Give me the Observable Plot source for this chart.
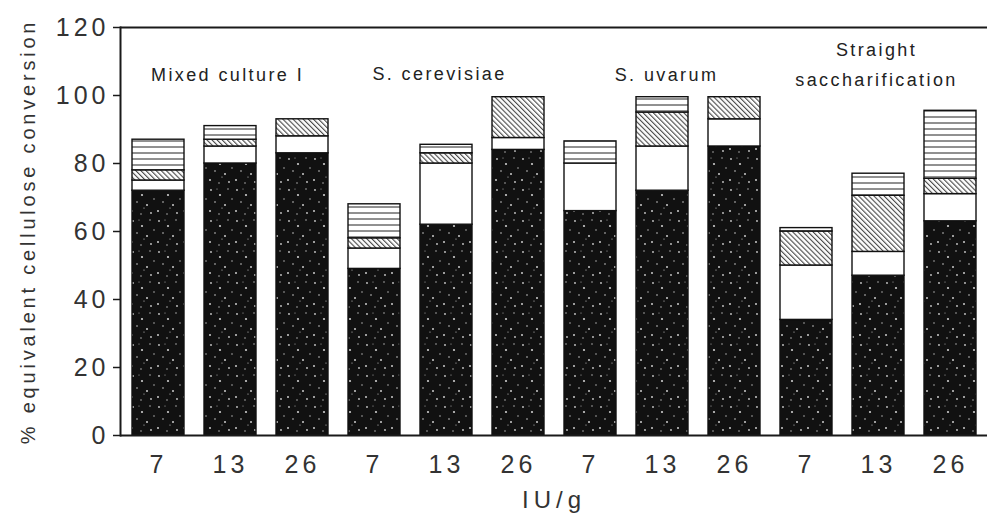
<!DOCTYPE html>
<html><head><meta charset="utf-8">
<script src="https://cdn.jsdelivr.net/npm/d3@7"></script>
<script src="https://cdn.jsdelivr.net/npm/@observablehq/plot@0.6"></script>
<style>body{margin:0;background:#fff}</style>
</head><body><div id="chart"></div>
<script>
// Data
const conditions = ["Mixed culture I", "S. cerevisiae", "S. uvarum", "Straight saccharification"];
const doses = ["7", "13", "26"];
// cumulative tops (% equivalent cellulose conversion) for each stacked segment, bar order
const blackTop = [72, 80, 83, 49, 62, 84, 66, 72, 85, 34, 47, 63];
const whiteTop = [75, 85, 88, 55, 80, 87.5, 80, 85, 93, 50, 54, 71];
const diagTop  = [78, 87, 93, 58, 83, 99.5, 80, 95, 99.5, 60, 70.5, 75.5];
const lineTop  = [87, 91, 93, 68, 85.5, 99.5, 86.5, 99.5, 99.5, 61, 77, 95.5];
const yTicks = [0, 20, 40, 60, 80, 100, 120];

const keys = [];
conditions.forEach(c => doses.forEach(d => keys.push(c + "|" + d)));
const series = [
  {name: "solid", tops: blackTop, fill: "url(#speckle)"},
  {name: "open", tops: whiteTop, fill: "white"},
  {name: "diagonal", tops: diagTop, fill: "url(#diag)"},
  {name: "lined", tops: lineTop, fill: "url(#hlines)"}
];
const segments = [];
keys.forEach((k, i) => {
  let prev = 0;
  series.forEach(s => {
    const t = s.tops[i];
    if (t > prev + 0.01) segments.push({key: k, y1: prev, y2: t, fill: s.fill, series: s.name});
    prev = Math.max(prev, t);
  });
});
const groupLabels = [
  {key: keys[1], label: "Mixed culture I", dx: -3, dy: 44},
  {key: keys[4], label: "S. cerevisiae", dx: -7, dy: 43},
  {key: keys[7], label: "S. uvarum", dx: 4, dy: 44},
  {key: keys[10], label: "Straight\nsaccharification", dx: -2, dy: 34}
];

const font = "'Liberation Sans', Arial, Helvetica, sans-serif";
const chart = Plot.plot({
  width: 987,
  height: 519,
  marginLeft: 120,
  marginRight: 0,
  marginTop: 27,
  marginBottom: 84,
  style: {fontFamily: font, fontSize: "25px", color: "#333", background: "white"},
  x: {domain: keys, paddingInner: 0.28, paddingOuter: 0.15},
  y: {domain: [0, 120]},
  marks: [
    Plot.barY(segments, {x: "key", y1: "y1", y2: "y2", fill: "fill", stroke: "#111", strokeWidth: 1.4}),
    Plot.ruleY([0, 120], {stroke: "#1a1a1a", strokeWidth: 2}),
    Plot.frame({anchor: "left", stroke: "#1a1a1a", strokeWidth: 2}),
    Plot.axisY({ticks: yTicks, tickSize: 7, tickPadding: 4, stroke: "#1a1a1a", strokeWidth: 1.5,
      label: "% equivalent cellulose conversion", labelAnchor: "center", labelArrow: "none", labelOffset: 100}),
    Plot.axisX({tickSize: 0, tickPadding: 20, tickFormat: d => d.split("|")[1],
      label: "IU/g", labelAnchor: "center", labelArrow: "none", labelOffset: 72}),
    ...groupLabels.map(g => Plot.text([g], {x: "key", text: "label", frameAnchor: "top", dx: g.dx, dy: g.dy,
      lineAnchor: "middle", fontSize: 18, lineHeight: 1.65, fill: "#222"}))
  ]
});

chart.insertAdjacentHTML("afterbegin", `<defs>
<pattern id="speckle" patternUnits="userSpaceOnUse" width="26" height="31">
<rect width="26" height="31" fill="#111"/>
<g fill="#ccc">
<circle cx="3" cy="4" r="0.9"/><circle cx="12" cy="9" r="1.1"/><circle cx="20" cy="3" r="0.7"/>
<circle cx="7" cy="16" r="0.8"/><circle cx="17" cy="19" r="1"/><circle cx="24" cy="13" r="0.7"/>
<circle cx="2" cy="25" r="1"/><circle cx="11" cy="28" r="0.7"/><circle cx="21" cy="27" r="0.9"/>
<circle cx="14" cy="22" r="0.6"/><circle cx="9" cy="3" r="0.5"/>
</g></pattern>
<pattern id="diag" patternUnits="userSpaceOnUse" width="3.6" height="3.6" patternTransform="rotate(-45)">
<rect width="3.6" height="3.6" fill="white"/><line x1="0.6" y1="0" x2="0.6" y2="3.6" stroke="#333" stroke-width="1"/>
</pattern>
<pattern id="hlines" patternUnits="userSpaceOnUse" width="10" height="6">
<rect width="10" height="6" fill="white"/><line x1="0" y1="3" x2="10" y2="3" stroke="#222" stroke-width="1"/>
</pattern>
</defs>`);

const svg = d3.select(chart);
svg.selectAll('g[aria-label="y-axis label"] text').attr("font-size", 20).attr("letter-spacing", "3.8px");
svg.selectAll('g[aria-label="x-axis label"] text').attr("font-size", 24).attr("letter-spacing", "5px");
svg.selectAll('g[aria-label="y-axis tick label"] text, g[aria-label="x-axis tick label"] text').attr("letter-spacing", "4px");
svg.selectAll('g[aria-label="text"] text').attr("letter-spacing", "2.4px");
document.getElementById("chart").appendChild(chart);
</script>
</body></html>
